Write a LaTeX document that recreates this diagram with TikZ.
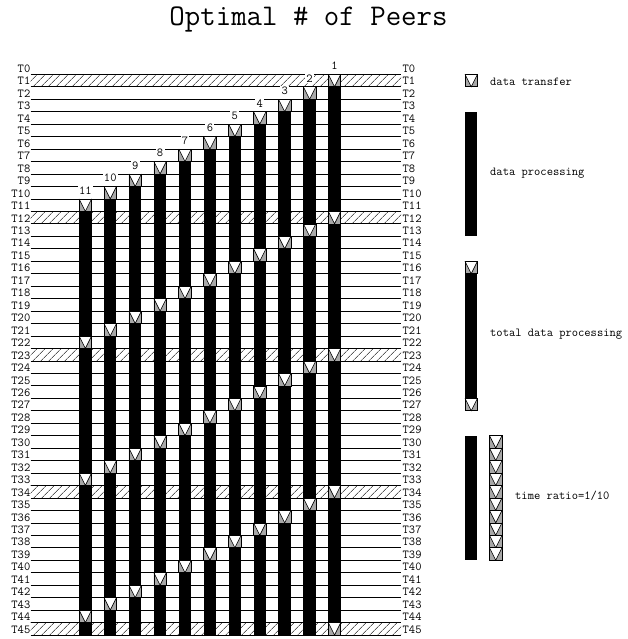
\documentclass[tikz,border=0pt]{standalone}
\usepackage{fontspec}
\usetikzlibrary{patterns.meta}
\definecolor{xg}{gray}{0.66}
\begin{document}
\begin{tikzpicture}[x=1pt,y=-1pt,
  gridline/.style={line width=0.7pt},
  glyphline/.style={line width=0.6pt},
  hatch/.style={pattern={Lines[angle=45,distance=5.4pt,line width=0.55pt]}},
  lab/.style={font=\ttfamily\fontsize{12.2}{13}\selectfont, inner sep=0pt},
  num/.style={font=\ttfamily\fontsize{12.2}{13}\selectfont, inner sep=1.3pt, fill=white},
  xfer/.pic={
    \fill[white] (0,0) rectangle (12.46,12.46);
    \fill[xg] (0,0) -- (0,12.46) -- (6.23,12.46) -- cycle;
    \fill[xg] (12.46,0) -- (12.46,12.46) -- (6.23,12.46) -- cycle;
    \draw[glyphline] (0,0) rectangle (12.46,12.46);
    \draw[glyphline] (0,0) -- (6.23,12.46) -- (12.46,0);
  }]
\useasboundingbox (0,0) rectangle (628,639);
% title
\node[font=\ttfamily\fontsize{30}{34}\selectfont, anchor=base, inner sep=0pt] (title) at (308.5,26) {Optimal \# of Peers};
% grid lines
\foreach \i in {0,...,45} {
  \draw[gridline] (30.7,{74.3+12.46*\i}) -- (401,{74.3+12.46*\i});
}
% hatched rows
\foreach \r in {1,12,23,34,45} {
  \fill[hatch] (30.7,{74.3+12.46*(\r-1)}) rectangle (401,{74.3+12.46*\r});
}
% peers
\foreach \k in {1,...,11} {
  \pgfmathsetmacro\xl{328.3-24.92*(\k-1)}
  \fill[black] (\xl,{74.3+12.46*\k}) rectangle ++(12.46,{12.46*(45-\k)});
  \foreach \m in {0,...,4} {
    \pgfmathtruncatemacro\r{\k+11*\m}
    \ifnum\r<46 \pic at (\xl,{74.3+12.46*(\r-1)}) {xfer}; \fi
  }
  \node[num] (n\k) at ({\xl+6.23},{74.3+12.46*(\k-2)+4}) {\k};
}
% row labels
\foreach \i in {0,...,45} {
  \node[lab, anchor=base east] (L\i) at (30.5,{74.3+12.46*\i-1.8}) {T\i};
  \node[lab, anchor=base west] (R\i) at (402.5,{74.3+12.46*\i-1.8}) {T\i};
}
% legend
\pic at (465,74.3) {xfer};
\node[lab, anchor=base west] (lg1) at (490,85.7) {data transfer};
\fill[black] (465,111.68) rectangle (477.46,236.28);
\node[lab, anchor=base west] (lg2) at (490,175.3) {data processing};
\pic at (465,261.2) {xfer};
\fill[black] (465,273.66) rectangle (477.46,398.26);
\pic at (465,398.26) {xfer};
\node[lab, anchor=base west] (lg3) at (490,336.5) {total data processing};
\fill[black] (465,435.64) rectangle (477.46,560.24);
\foreach \j in {0,...,9} {
  \pic at (489.5,{435.64+12.46*\j}) {xfer};
}
\node[lab, anchor=base west] (lg4) at (515,499.3) {time ratio=1/10};
\end{tikzpicture}
\end{document}
